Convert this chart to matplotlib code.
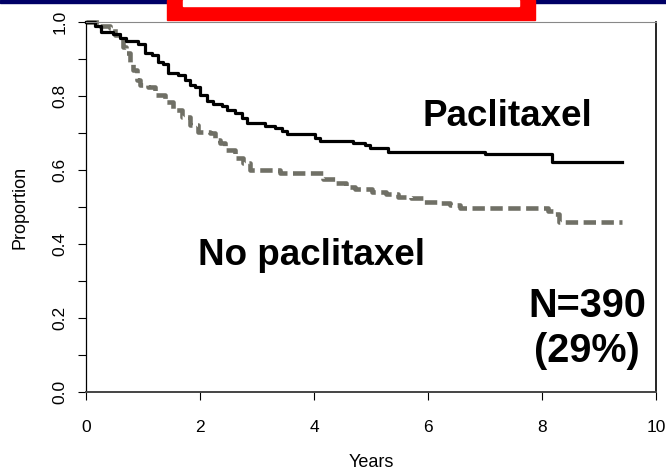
import numpy as np
import matplotlib
matplotlib.use('Agg')
import matplotlib.pyplot as plt
from matplotlib.patches import Rectangle

plt.rcParams['font.family'] = ['Liberation Sans', 'DejaVu Sans']

# Paclitaxel arm (step curve)
pac_t = [0, 0.16, 0.27, 0.48, 0.6, 0.71, 0.92, 1.04, 1.15, 1.27, 1.35, 1.44,
         1.62, 1.74, 1.83, 1.91, 2.0, 2.12, 2.23, 2.38, 2.47, 2.61, 2.73, 2.82,
         3.14, 3.32, 3.43, 3.52, 4.02, 4.1, 4.69, 4.9, 4.98, 5.3, 7.0, 8.17, 9.4]
pac_s = [1.0, 0.99, 0.974, 0.968, 0.957, 0.949, 0.94, 0.916, 0.91, 0.893, 0.886,
         0.862, 0.857, 0.843, 0.83, 0.825, 0.803, 0.786, 0.779, 0.774, 0.762,
         0.754, 0.74, 0.727, 0.719, 0.713, 0.705, 0.696, 0.686, 0.678, 0.674,
         0.668, 0.659, 0.65, 0.642, 0.621, 0.621]

# No paclitaxel arm
nop_t = [0, 0.25, 0.42, 0.51, 0.65, 0.71, 0.77, 0.83, 0.89, 0.95, 1.09, 1.21,
         1.39, 1.53, 1.68, 1.82, 1.97, 2.18, 2.26, 2.35, 2.44, 2.61, 2.76, 2.88,
         3.4, 4.16, 4.37, 4.57, 4.72, 5.01, 5.27, 5.48, 5.71, 5.92, 6.15, 6.39,
         6.56, 8.11, 8.2, 8.29, 9.4]
nop_s = [1.0, 0.99, 0.983, 0.965, 0.933, 0.915, 0.893, 0.87, 0.843, 0.83, 0.825,
         0.803, 0.783, 0.762, 0.744, 0.722, 0.702, 0.699, 0.681, 0.672, 0.654,
         0.632, 0.618, 0.6, 0.591, 0.576, 0.564, 0.553, 0.548, 0.541, 0.535,
         0.528, 0.523, 0.514, 0.51, 0.505, 0.498, 0.49, 0.48, 0.46, 0.46]

x_ticks = [0, 2, 4, 6, 8, 10]
y_ticks = [0.0, 0.2, 0.4, 0.6, 0.8, 1.0]

fig = plt.figure(figsize=(6.66, 4.75), dpi=100)
ax = fig.add_axes([86 / 666, 1 - 392 / 475, 570 / 666, 370 / 475])

ax.plot(nop_t, nop_s, drawstyle='steps-post', color='#707066', lw=3.3,
        linestyle=(0, (2.7, 1.2)), dash_capstyle='butt', clip_on=False)
ax.plot(pac_t, pac_s, drawstyle='steps-post', color='black', lw=2.3,
        clip_on=False)

ax.set_xlim(0, 10)
ax.set_ylim(0, 1)
ax.set_xticks(x_ticks)
ax.set_xticklabels([str(v) for v in x_ticks])
ax.set_yticks(y_ticks)
ax.set_yticklabels(['%.1f' % v for v in y_ticks], rotation=90, va='center')
ax.set_yticks(np.arange(0.1, 1.0, 0.2), minor=True)
ax.tick_params(axis='both', which='both', direction='out', length=5.5,
               width=0.8, labelsize=12.5)
ax.tick_params(axis='x', pad=15)
ax.tick_params(axis='y', pad=8)

ax.set_xlabel('Years', fontsize=13, labelpad=13)
ax.set_ylabel('Proportion', fontsize=13, labelpad=17)

ax.spines['top'].set_color('#888888')
ax.spines['bottom'].set_color('#444444')
ax.spines['bottom'].set_linewidth(1.4)
ax.spines['right'].set_linewidth(1.2)
ax.spines['left'].set_linewidth(0.9)

bold = dict(fontweight='bold', ha='center', va='baseline')
ax.text(7.4, 0.72, 'Paclitaxel', fontsize=26.5, **bold)
ax.text(3.96, 0.343, 'No paclitaxel', fontsize=26.5, **bold)
ax.text(8.79, 0.203, 'N=390', fontsize=28.5, **bold)
ax.text(8.79, 0.081, '(29%)', fontsize=28.5, **bold)

# slide decoration at the top edge
fig.patches.append(Rectangle((0, 1 - 3 / 475), 1, 3 / 475, transform=fig.transFigure,
                             color='#000066', zorder=5))
fig.patches.append(Rectangle((167 / 666, 1 - 20 / 475), 368 / 666, 20 / 475,
                             transform=fig.transFigure, color='#ff0000', zorder=6))
fig.patches.append(Rectangle((183 / 666, 1 - 6 / 475), 336 / 666, 6 / 475,
                             transform=fig.transFigure, color='white', zorder=7))

fig.savefig('out.png', dpi=100)
